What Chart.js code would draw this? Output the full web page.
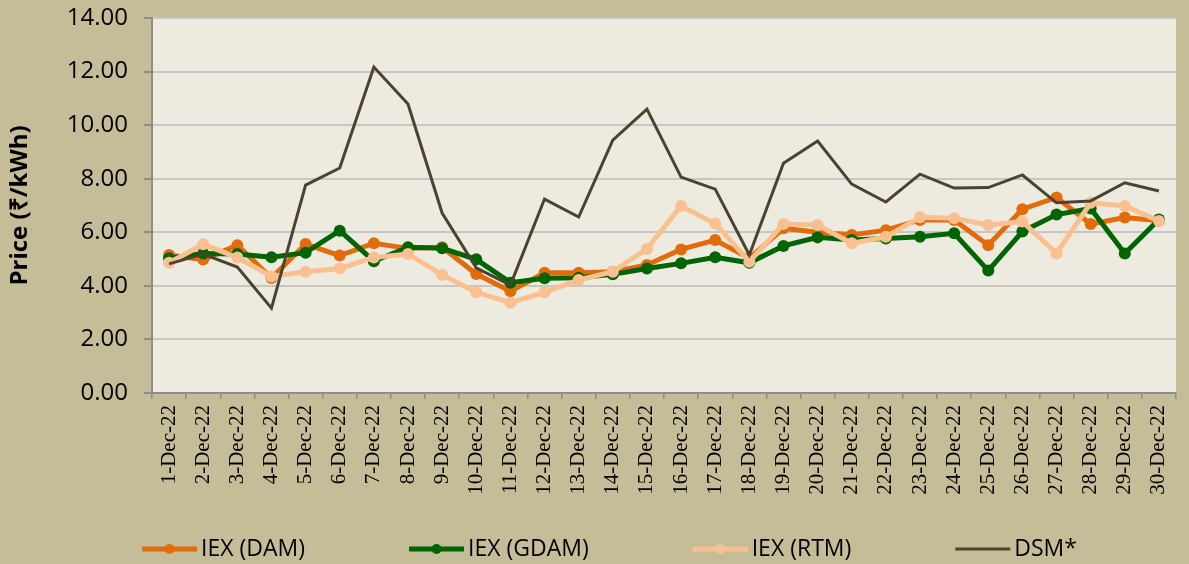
<!DOCTYPE html>
<html lang="en">
<head>
    <meta charset="UTF-8">
    <title>Price trend - Dec 2022</title>
    <script src="https://cdn.jsdelivr.net/npm/chart.js"></script>
    <style>
        body { margin: 0; background: #C4BD97; }
        #grafico { display: block; }
    </style>
</head>
<body>
    <canvas id="grafico" width="1189" height="564"></canvas>
    <script>
        // dias de dezembro
        const dias = [];
        for (let d = 1; d <= 30; d++) dias.push(d + '-Dec-22');

        const iexDam = [5.15, 4.98, 5.52, 4.29, 5.56, 5.13, 5.59, 5.40, 5.44, 4.44,
                        3.80, 4.49, 4.49, 4.53, 4.78, 5.36, 5.71, 5.03, 6.15, 6.00,
                        5.90, 6.08, 6.46, 6.46, 5.52, 6.86, 7.30, 6.31, 6.55, 6.43];
        const iexGdam = [5.03, 5.21, 5.19, 5.07, 5.24, 6.06, 4.92, 5.44, 5.40, 4.99,
                         4.12, 4.28, 4.30, 4.43, 4.65, 4.84, 5.07, 4.86, 5.49, 5.81,
                         5.71, 5.77, 5.83, 5.96, 4.57, 6.03, 6.66, 6.89, 5.21, 6.48];
        const iexRtm = [4.86, 5.55, 5.06, 4.35, 4.53, 4.65, 5.06, 5.19, 4.41, 3.76,
                        3.37, 3.76, 4.22, 4.53, 5.38, 6.98, 6.33, 4.90, 6.31, 6.27,
                        5.59, 5.83, 6.56, 6.52, 6.27, 6.40, 5.21, 7.10, 6.98, 6.42];
        const dsm = [4.82, 5.19, 4.70, 3.17, 7.76, 8.40, 12.17, 10.79, 6.72, 4.67,
                     4.03, 7.24, 6.57, 9.44, 10.60, 8.06, 7.61, 5.15, 8.58, 9.41,
                     7.80, 7.13, 8.17, 7.65, 7.67, 8.14, 7.10, 7.17, 7.85, 7.54];

        // fundo da área do gráfico
        const fundoPlot = {
            id: 'fundoPlot',
            beforeDraw(chart) {
                const { ctx, chartArea: a } = chart;
                ctx.save();
                ctx.fillStyle = '#EDEBE0';
                ctx.fillRect(a.left, a.top, a.right - a.left, a.bottom - a.top);
                ctx.restore();
            }
        };

        // legenda desenhada à mão (linha + ponto)
        const legendaLinha = {
            id: 'legendaLinha',
            afterDraw(chart) {
                const ctx = chart.ctx;
                const sets = chart.data.datasets;
                const linha = 55, espaco = 4, gap = 104, y = 549;
                ctx.save();
                ctx.font = '23px "Open Sans"';
                const larguras = sets.map(s => linha + espaco + ctx.measureText(s.label).width);
                const total = larguras.reduce((a, b) => a + b, 0) + gap * (sets.length - 1);
                let x = (chart.width - total) / 2 + 15;
                sets.forEach((s, i) => {
                    ctx.strokeStyle = s.borderColor;
                    ctx.lineWidth = s.borderWidth;
                    ctx.beginPath();
                    ctx.moveTo(x, y);
                    ctx.lineTo(x + linha, y);
                    ctx.stroke();
                    if (s.pointRadius > 0) {
                        ctx.fillStyle = s.borderColor;
                        ctx.beginPath();
                        ctx.arc(x + linha / 2, y, s.pointRadius - 1, 0, Math.PI * 2);
                        ctx.fill();
                    }
                    ctx.fillStyle = '#000';
                    ctx.textBaseline = 'middle';
                    ctx.fillText(s.label, x + linha + espaco, y);
                    x += larguras[i] + gap;
                });
                ctx.restore();
            }
        };

        function serie(label, data, cor, largura, raio, ordem) {
            return {
                label: label,
                data: data,
                borderColor: cor,
                backgroundColor: cor,
                borderWidth: largura,
                pointRadius: raio,
                pointHoverRadius: raio,
                pointBorderWidth: 0,
                tension: 0,
                order: ordem
            };
        }

        new Chart(document.getElementById('grafico'), {
            type: 'line',
            data: {
                labels: dias,
                datasets: [
                    serie('IEX (DAM)', iexDam, '#E36C0A', 5, 6, 4),
                    serie('IEX (GDAM)', iexGdam, '#006400', 5, 6, 3),
                    serie('IEX (RTM)', iexRtm, '#FAC090', 5, 6, 2),
                    serie('DSM*', dsm, '#4A4330', 3, 0, 1)
                ]
            },
            options: {
                responsive: false,
                animation: false,
                layout: { padding: { top: 18, right: 13, bottom: 40, left: 0 } },
                plugins: {
                    legend: { display: false },
                    tooltip: { enabled: false }
                },
                scales: {
                    x: {
                        offset: true,
                        grid: { offset: true, drawOnChartArea: false, tickLength: 6, color: '#8C8C8C', lineWidth: 1.5 },
                        border: { color: '#8C8C8C', width: 2 },
                        ticks: {
                            autoSkip: false, minRotation: 90, maxRotation: 90, padding: 6,
                            color: '#000', font: { family: '"Liberation Serif"', size: 21 }
                        },
                        afterFit(scale) {
                            scale.height = 131;
                            scale.paddingLeft = 0;
                            scale.paddingRight = 0;
                        }
                    },
                    y: {
                        min: 0, max: 14,
                        grid: { color: '#C6C6C6', lineWidth: 2, tickLength: 8, tickColor: '#8C8C8C' },
                        border: { color: '#8C8C8C', width: 2 },
                        ticks: {
                            stepSize: 2, padding: 16, color: '#000',
                            font: { family: '"Open Sans"', size: 24 },
                            callback: v => v.toFixed(2)
                        },
                        title: {
                            display: true, text: 'Price (₹/kWh)', color: '#000',
                            font: { family: '"Open Sans"', size: 24, weight: 'bold' },
                            padding: { top: 6, bottom: 0 }
                        },
                        afterFit(scale) {
                            scale.width = 152;
                            scale.paddingTop = 0;
                            scale.paddingBottom = 0;
                        }
                    }
                }
            },
            plugins: [fundoPlot, legendaLinha]
        });
    </script>
</body>
</html>
